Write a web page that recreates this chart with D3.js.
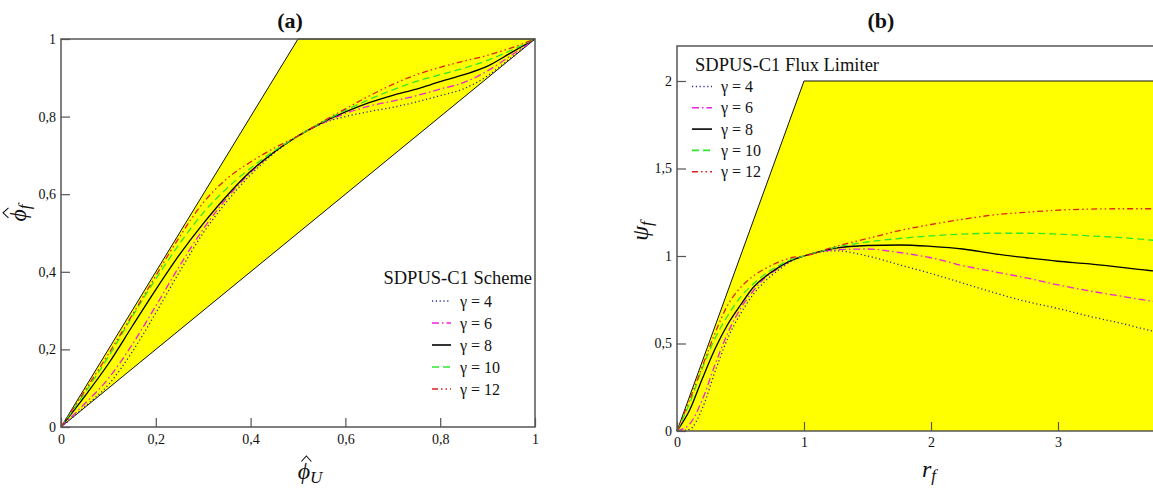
<!DOCTYPE html>
<html lang="en">
<head>
<meta charset="UTF-8">
<title>SDPUS-C1 NVD and flux limiter</title>
<style>
  body { margin: 0; background: #fff; }
  .tick line { stroke: #555; stroke-width: 1.2; }
  .frame { fill: none; stroke: #555; stroke-width: 1.5; }
  .region { fill: #ffff00; stroke: #111; stroke-width: 1; }
  .curve { fill: none; stroke-width: 1.3; }
</style>
</head>
<body>
<svg id="chart" width="1153" height="489"></svg>
<script src="https://d3js.org/d3.v7.min.js"></script>
<script>
// ---- data ----
var gammas = [4, 6, 8, 10, 12];

// (a) normalised variable diagram
var phiU = [0, 0.05, 0.1, 0.15, 0.2, 0.25, 0.3, 0.35, 0.4, 0.45, 0.5, 0.55, 0.6, 0.65, 0.7, 0.75, 0.8, 0.85, 0.9, 0.95, 1];
var phiF4  = [0, 0.052, 0.109, 0.193, 0.294, 0.400, 0.500, 0.581, 0.650, 0.706, 0.750, 0.782, 0.800, 0.813, 0.824, 0.838, 0.854, 0.872, 0.905, 0.952, 1];
var phiF6  = [0, 0.060, 0.125, 0.212, 0.312, 0.415, 0.510, 0.590, 0.656, 0.709, 0.750, 0.782, 0.808, 0.827, 0.840, 0.854, 0.871, 0.888, 0.918, 0.958, 1];
var phiF8  = [0, 0.079, 0.163, 0.259, 0.354, 0.444, 0.524, 0.596, 0.659, 0.709, 0.750, 0.784, 0.812, 0.836, 0.855, 0.871, 0.890, 0.908, 0.930, 0.965, 1];
var phiF10 = [0, 0.088, 0.181, 0.284, 0.382, 0.472, 0.552, 0.615, 0.667, 0.712, 0.750, 0.785, 0.816, 0.844, 0.869, 0.891, 0.908, 0.925, 0.945, 0.971, 1];
var phiF12 = [0, 0.093, 0.188, 0.288, 0.390, 0.490, 0.578, 0.640, 0.683, 0.719, 0.750, 0.786, 0.820, 0.853, 0.883, 0.908, 0.927, 0.943, 0.958, 0.977, 1];

// (b) flux limiter
var rF = [0, 0.1, 0.2, 0.3, 0.4, 0.5, 0.6, 0.7, 0.8, 0.9, 1, 1.25, 1.5, 1.75, 2, 2.25, 2.5, 2.75, 3, 3.25, 3.5, 3.75, 4];
var psi4  = [0, 0.01, 0.13, 0.34, 0.53, 0.67, 0.78, 0.86, 0.92, 0.97, 1.0, 1.03, 1.0, 0.95, 0.90, 0.845, 0.79, 0.74, 0.70, 0.655, 0.615, 0.57, 0.535];
var psi6  = [0, 0.04, 0.18, 0.38, 0.56, 0.70, 0.80, 0.88, 0.93, 0.975, 1.0, 1.035, 1.04, 1.02, 0.99, 0.945, 0.91, 0.875, 0.835, 0.80, 0.77, 0.74, 0.71];
var psi8  = [0, 0.12, 0.30, 0.47, 0.61, 0.72, 0.82, 0.885, 0.935, 0.975, 1.0, 1.045, 1.06, 1.063, 1.055, 1.04, 1.012, 0.99, 0.97, 0.955, 0.935, 0.915, 0.90];
var psi10 = [0, 0.16, 0.36, 0.53, 0.66, 0.765, 0.84, 0.90, 0.945, 0.98, 1.0, 1.05, 1.08, 1.10, 1.115, 1.125, 1.13, 1.13, 1.125, 1.115, 1.105, 1.09, 1.075];
var psi12 = [0, 0.18, 0.37, 0.56, 0.72, 0.82, 0.885, 0.93, 0.965, 0.99, 1.0, 1.055, 1.10, 1.145, 1.18, 1.21, 1.235, 1.25, 1.262, 1.268, 1.27, 1.27, 1.268];

// bounded regions (CBC in NVD, TVD in r-psi plane)
var cbcRegion = [[0, 0], [0.5, 1], [1, 1], [0, 0]];
var tvdRegion = [[0, 0], [1, 2], [4, 2]];

var ticksA = [0, 0.2, 0.4, 0.6, 0.8, 1];
var ticksBx = [0, 1, 2, 3];
var ticksBy = [0, 0.5, 1, 1.5, 2];

var legendTitleA = 'SDPUS-C1 Scheme';
var legendTitleB = 'SDPUS-C1 Flux Limiter';

// line styles, one per gamma
var styles = {
  4:  { color: '#2a2a9a', dash: '1.2,2.6' },
  6:  { color: '#f020e0', dash: '7,3,1.5,3' },
  8:  { color: '#000000', dash: null },
  10: { color: '#2ee62e', dash: '7,4' },
  12: { color: '#e02020', dash: '6,3,1.5,3,1.5,3' }
};

var seriesA = { 4: phiF4, 6: phiF6, 8: phiF8, 10: phiF10, 12: phiF12 };
var seriesB = { 4: psi4, 6: psi6, 8: psi8, 10: psi10, 12: psi12 };

var serif = '"Liberation Serif", "Times New Roman", serif';
var svg = d3.select('#chart');
var fmt = function(v) { return String(v).replace('.', ','); };

function styleLine(sel, g) {
  sel.attr('stroke', styles[g].color)
    .attr('stroke-dasharray', styles[g].dash);
}

function txt(parent, x, y, size, s) {
  return parent.append('text').attr('x', x).attr('y', y)
    .style('font-family', serif).style('font-size', size + 'px').style('fill', '#111').text(s);
}

function fixTicks(g) {
  g.select('.domain').remove();
  g.attr('font-family', null).attr('font-size', null);
  g.selectAll('.tick text').style('font-family', serif).style('font-size', '14px').style('fill', '#111');
}

// ================= panel (a) =================
var xa = d3.scaleLinear().domain([0, 1]).range([61, 535]);
var ya = d3.scaleLinear().domain([0, 1]).range([427, 39]);
var pa = svg.append('g');

pa.append('path')
  .attr('class', 'region')
  .attr('d', d3.line().x(d => xa(d[0])).y(d => ya(d[1]))(cbcRegion) + 'Z');

var lineC = d3.line().curve(d3.curveMonotoneX);
gammas.forEach(function(g) {
  var pts = phiU.map((u, i) => [xa(u), ya(seriesA[g][i])]);
  pa.append('path').attr('class', 'curve').attr('d', lineC(pts)).call(styleLine, g);
});

pa.append('g').attr('transform', 'translate(0,427)')
  .call(d3.axisBottom(xa).tickValues(ticksA).tickFormat(fmt).tickSize(-9).tickPadding(7))
  .call(fixTicks);
pa.append('g').attr('transform', 'translate(61,0)')
  .call(d3.axisLeft(ya).tickValues(ticksA).tickFormat(fmt).tickSize(-9).tickPadding(5))
  .call(fixTicks);

pa.append('rect').attr('class', 'frame')
  .attr('x', 61).attr('y', 39).attr('width', 474).attr('height', 388);

// legend (a)
txt(pa, 532, 284, 18.5, legendTitleA).attr('text-anchor', 'end');
gammas.forEach(function(g, i) {
  var cy = 301 + i * 22;
  pa.append('line').attr('x1', 432).attr('x2', 451).attr('y1', cy).attr('y2', cy)
    .attr('stroke-width', 1.6).call(styleLine, g);
  txt(pa, 460, cy + 5.5, 16, '\u03b3 = ' + g);
});

// ================= panel (b) =================
var xb = d3.scaleLinear().domain([0, 4]).range([677, 1185]);
var yb = d3.scaleLinear().domain([0, 2.2]).range([431, 46]);
var pb = svg.append('g');

pb.append('path')
  .attr('fill', '#ffff00')
  .attr('d', d3.line().x(d => xb(d[0])).y(d => yb(d[1]))(tvdRegion) + 'L' + xb(4) + ',' + yb(0) + 'Z');
pb.append('path')
  .attr('fill', 'none').attr('stroke', '#111').attr('stroke-width', 1)
  .attr('d', d3.line().x(d => xb(d[0])).y(d => yb(d[1]))(tvdRegion));

gammas.forEach(function(g) {
  var pts = rF.map((r, i) => [xb(r), yb(seriesB[g][i])]);
  pb.append('path').attr('class', 'curve').attr('d', lineC(pts)).call(styleLine, g);
});

pb.append('g').attr('transform', 'translate(0,431)')
  .call(d3.axisBottom(xb).tickValues(ticksBx).tickFormat(fmt).tickSize(-9).tickPadding(6))
  .call(fixTicks);
pb.append('g').attr('transform', 'translate(677,0)')
  .call(d3.axisLeft(yb).tickValues(ticksBy).tickFormat(fmt).tickSize(-9).tickPadding(5))
  .call(fixTicks);

pb.append('rect').attr('class', 'frame')
  .attr('x', 677).attr('y', 46).attr('width', xb(4) - 677).attr('height', 385);

// legend (b)
txt(pb, 695, 71, 18.5, legendTitleB);
gammas.forEach(function(g, i) {
  var cy = 86.5 + i * 21.3;
  pb.append('line').attr('x1', 692).attr('x2', 712).attr('y1', cy).attr('y2', cy)
    .attr('stroke-width', 1.6).call(styleLine, g);
  txt(pb, 721, cy + 5.5, 16, '\u03b3 = ' + g);
});

// ================= titles and axis labels =================
txt(svg, 290, 28, 22, '(a)').attr('text-anchor', 'middle').style('font-weight', 'bold');
txt(svg, 881, 28, 22, '(b)').attr('text-anchor', 'middle').style('font-weight', 'bold');

// italic symbol with a subscript; the hat is a small drawn chevron
function mathLabel(parent, tx, ty, rot, base, sub, hat) {
  var g = parent.append('g').attr('transform', 'translate(' + tx + ',' + ty + ') rotate(' + rot + ')');
  var t = txt(g, 0, 0, 24, null).style('font-style', 'italic');
  t.append('tspan').text(base);
  t.append('tspan').attr('dy', 4).style('font-size', '17px').text(sub);
  var w = t.node().getComputedTextLength();
  var bw = t.select('tspan').node().getComputedTextLength();
  var x0 = -w / 2;
  t.attr('x', x0);
  if (hat) {
    var cx = x0 + bw / 2 + 2.5;
    g.append('path')
      .attr('d', 'M' + (cx - 5) + ',-17.5L' + cx + ',-23L' + (cx + 5) + ',-17.5')
      .attr('fill', 'none').attr('stroke', '#111').attr('stroke-width', 1.1);
  }
}

mathLabel(svg, 310, 479, 0, '\u03d5', 'U', true);
mathLabel(svg, 26, 213, -90, '\u03d5', 'f', true);
mathLabel(svg, 929, 477, 0, 'r', 'f', false);
mathLabel(svg, 648, 231, -90, '\u03c8', 'f', false);
</script>
</body>
</html>
